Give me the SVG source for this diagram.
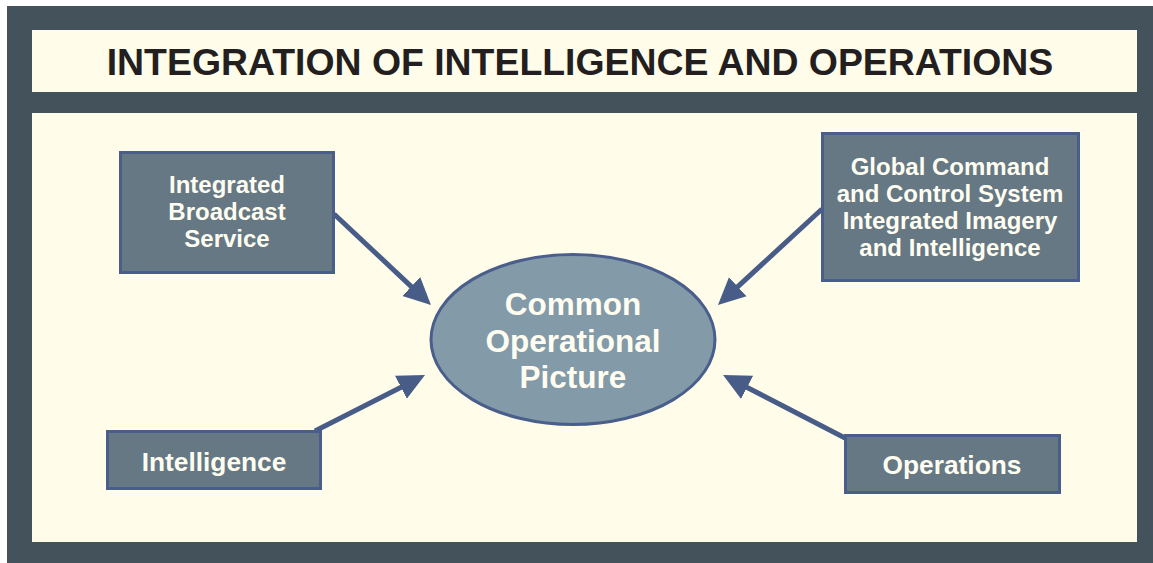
<svg xmlns="http://www.w3.org/2000/svg" width="1153" height="563" viewBox="0 0 1153 563">
  <style>
    .frame { fill: #44525c; }
    .panel { fill: #fffce9; }
    .title { font-family: "Liberation Sans", Arial, sans-serif; font-weight: bold; font-size: 37.4px; fill: #231f20; text-anchor: middle; }
    .box { fill: #657884; stroke: #4a5e8c; stroke-width: 3; }
    .ell { fill: #839aa8; stroke: #4a5e8c; stroke-width: 3; }
    .lbl { font-family: "Liberation Sans", Arial, sans-serif; font-weight: bold; fill: #fffdf0; text-anchor: middle; }
    .s24 { font-size: 24px; }
    .s26 { font-size: 26.3px; }
    .s31 { font-size: 31.5px; }
    .conn { stroke: #485c88; stroke-width: 5; fill: none; marker-end: url(#arr); }
  </style>
  <defs>
    <marker id="arr" markerUnits="userSpaceOnUse" markerWidth="28" markerHeight="28" viewBox="0 0 28 28" refX="14" refY="14" orient="auto">
      <path d="M0,1 L27,14 L0,27 z" fill="#485c88"/>
    </marker>
  </defs>

  <rect class="frame" x="7" y="6" width="1146" height="557"/>
  <rect class="panel" x="32" y="30" width="1105" height="62"/>
  <rect class="panel" x="32" y="113" width="1105" height="429"/>
  <text class="title" x="580" y="75">INTEGRATION OF INTELLIGENCE AND OPERATIONS</text>

  <g id="connectors">
    <line class="conn" x1="334" y1="214" x2="421.5" y2="296.1"/>
    <line class="conn" x1="822" y1="209" x2="727.5" y2="296.2"/>
    <line class="conn" x1="315" y1="431" x2="413.4" y2="380.9"/>
    <line class="conn" x1="845" y1="438" x2="734.6" y2="381"/>
  </g>

  <g id="ibs">
    <rect class="box" x="120.5" y="152.5" width="213" height="120"/>
    <text class="lbl s24" x="227" y="192.5">Integrated</text>
    <text class="lbl s24" x="227" y="219.5">Broadcast</text>
    <text class="lbl s24" x="227" y="246.5">Service</text>
  </g>

  <g id="gccs">
    <rect class="box" x="822.5" y="133.5" width="256" height="147"/>
    <text class="lbl s24" x="950" y="174.5">Global Command</text>
    <text class="lbl s24" x="950" y="201.5">and Control System</text>
    <text class="lbl s24" x="950" y="228.5">Integrated Imagery</text>
    <text class="lbl s24" x="950" y="255.5">and Intelligence</text>
  </g>

  <g id="intelligence">
    <rect class="box" x="107.5" y="431.5" width="213" height="57"/>
    <text class="lbl s26" x="214" y="470.5">Intelligence</text>
  </g>

  <g id="operations">
    <rect class="box" x="845.5" y="435.5" width="214" height="57"/>
    <text class="lbl s26" x="952" y="473.5">Operations</text>
  </g>

  <g id="cop">
    <ellipse class="ell" cx="573" cy="339.5" rx="142" ry="85"/>
    <text class="lbl s31" x="573" y="315">Common</text>
    <text class="lbl s31" x="573" y="351.5">Operational</text>
    <text class="lbl s31" x="573" y="388">Picture</text>
  </g>
</svg>
